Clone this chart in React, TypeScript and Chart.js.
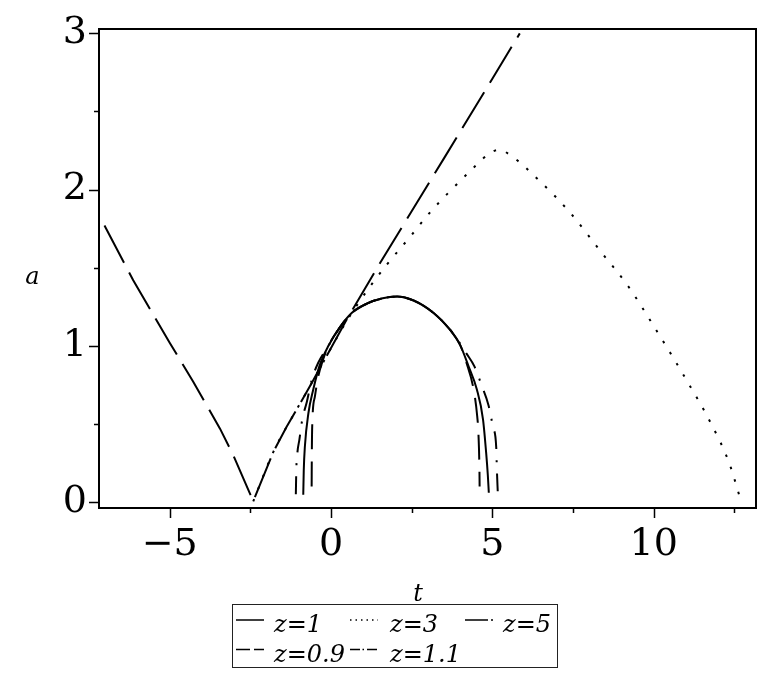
import React, { useEffect, useRef } from 'react';
import { Chart, registerables } from 'chart.js';

Chart.register(...registerables);

// ---- data ----
// z = 1 (solid)
const tZ1 = [-0.86, -0.845, -0.81, -0.7, -0.55, -0.36, -0.08, 0.28, 0.64, 1.11, 1.6, 2.05, 2.56, 3.18, 3.7, 4.0, 4.26, 4.52, 4.71, 4.81, 4.86, 4.89];
const aZ1 = [0.047, 0.2, 0.356, 0.57, 0.72, 0.87, 1.0, 1.12, 1.21, 1.27, 1.305, 1.315, 1.29, 1.21, 1.1, 1.006, 0.87, 0.72, 0.53, 0.31, 0.17, 0.06];

// z = 3 (dotted)
const tZ3 = [-2.41, -1.79, -1.38, -0.96, -0.55, 0.49, 1.21, 1.73, 2.5, 3.05, 3.64, 4.52, 4.9, 5.2, 5.56, 6.49, 7.42, 8.41, 9.18, 10.11, 10.99, 11.77, 12.34, 12.7];
const aZ3 = [0.005, 0.32, 0.48, 0.63, 0.78, 1.16, 1.38, 1.52, 1.71, 1.85, 1.98, 2.16, 2.23, 2.255, 2.22, 2.05, 1.85, 1.59, 1.39, 1.09, 0.79, 0.505, 0.25, 0.01];

// z = 5 (long dash)
const tZ5 = [-7.02, -6.13, -5.0, -4.27, -3.44, -3.03, -2.41, -1.79, -1.38, -0.96, -0.55, 0.49, 1.52, 2.2, 3.5, 5.0, 5.85];
const aZ5 = [1.77, 1.42, 1.02, 0.77, 0.47, 0.3, 0.005, 0.32, 0.48, 0.63, 0.78, 1.17, 1.53, 1.76, 2.2, 2.71, 3.0];

// z = 0.9 (dashed)
const tZ09 = [-0.6, -0.595, -0.58, -0.5, -0.4, -0.25, -0.08, 0.28, 0.64, 1.11, 1.6, 2.05, 2.56, 3.18, 3.7, 4.0, 4.2, 4.42, 4.53, 4.57, 4.6, 4.605];
const aZ09 = [0.1, 0.3, 0.505, 0.675, 0.8, 0.91, 1.0, 1.12, 1.21, 1.27, 1.305, 1.315, 1.29, 1.21, 1.1, 1.006, 0.89, 0.72, 0.55, 0.43, 0.2, 0.1];

// z = 1.1 (dash-dot)
const tZ11 = [-1.09, -1.075, -1.04, -0.98, -0.89, -0.75, -0.6, -0.4, -0.08, 0.28, 0.64, 1.11, 1.6, 2.05, 2.56, 3.18, 3.7, 3.95, 4.2, 4.44, 4.68, 4.88, 5.02, 5.12, 5.14, 5.17];
const aZ11 = [0.05, 0.21, 0.32, 0.4, 0.53, 0.64, 0.78, 0.89, 1.0, 1.12, 1.21, 1.27, 1.305, 1.315, 1.29, 1.21, 1.1, 1.03, 0.95, 0.87, 0.74, 0.62, 0.48, 0.35, 0.21, 0.05];

const seriesLabels = ['z=1', 'z=3', 'z=5', 'z=0.9', 'z=1.1'];

const xMajorTicks = [-5, 0, 5, 10];
const xMinorTicks = [-2.5, 2.5, 7.5, 12.5];
const yMajorTicks = [0, 1, 2, 3];
const yMinorTicks = [0.5, 1.5, 2.5];
const xTitle = 't';
const yTitle = 'a';

const pts = (t: number[], a: number[]) => t.map((v, i) => ({ x: v, y: a[i] }));
const fmt = (v: number) => (v < 0 ? '\u2212' + Math.abs(v) : String(v));

const TICK_FONT = '"DejaVu Serif", serif';
const LABEL_FONT = 'italic 24px "DejaVu Serif", serif';

const decor = {
  id: 'decor',
  afterDraw(chart: any) {
    const { ctx, chartArea: ca, scales } = chart;
    const x = scales.x;
    const y = scales.y;
    ctx.save();
    ctx.strokeStyle = '#000';
    ctx.lineWidth = 2;
    ctx.setLineDash([]);
    ctx.strokeRect(ca.left, ca.top, ca.right - ca.left, ca.bottom - ca.top);

    ctx.lineWidth = 1.5;
    ctx.beginPath();
    xMajorTicks.forEach((v) => {
      const p = Math.round(x.getPixelForValue(v)) + 0.5;
      ctx.moveTo(p, ca.bottom);
      ctx.lineTo(p, ca.bottom + 10);
    });
    xMinorTicks.forEach((v) => {
      const p = Math.round(x.getPixelForValue(v)) + 0.5;
      ctx.moveTo(p, ca.bottom);
      ctx.lineTo(p, ca.bottom + 5);
    });
    yMajorTicks.forEach((v) => {
      const p = Math.round(y.getPixelForValue(v)) + 0.5;
      ctx.moveTo(ca.left, p);
      ctx.lineTo(ca.left - 10, p);
    });
    yMinorTicks.forEach((v) => {
      const p = Math.round(y.getPixelForValue(v)) + 0.5;
      ctx.moveTo(ca.left, p);
      ctx.lineTo(ca.left - 5, p);
    });
    ctx.stroke();

    // axis titles
    ctx.fillStyle = '#000';
    ctx.font = LABEL_FONT;
    ctx.textAlign = 'center';
    ctx.textBaseline = 'alphabetic';
    ctx.fillText(xTitle, 418, 601);
    ctx.fillText(yTitle, 32.5, 284);

    // legend
    ctx.lineWidth = 1;
    ctx.strokeStyle = '#222';
    ctx.strokeRect(232.5, 604.5, 325, 63);

    const entries = [
      { label: seriesLabels[0], sx: 236, tx: 274, sy: 620, by: 631.5, dash: [] as number[] },
      { label: seriesLabels[1], sx: 350, tx: 390, sy: 620, by: 631.5, dash: [1.5, 4] },
      { label: seriesLabels[2], sx: 465, tx: 503, sy: 620, by: 631.5, dash: [23, 3, 2, 10] },
      { label: seriesLabels[3], sx: 236, tx: 274, sy: 649.5, by: 661.5, dash: [14, 4] },
      { label: seriesLabels[4], sx: 350, tx: 390, sy: 649.5, by: 661.5, dash: [10, 2.5, 1.5, 3] },
    ];
    ctx.textAlign = 'left';
    entries.forEach((e) => {
      ctx.strokeStyle = '#000';
      ctx.lineWidth = 1.5;
      ctx.setLineDash(e.dash);
      ctx.beginPath();
      ctx.moveTo(e.sx, e.sy);
      ctx.lineTo(e.sx + 28, e.sy);
      ctx.stroke();
      ctx.setLineDash([]);
      ctx.fillText(e.label, e.tx, e.by);
    });
    ctx.restore();
  },
};

export default function App() {
  const ref = useRef<HTMLCanvasElement | null>(null);
  useEffect(() => {
    if (!ref.current) return;
    const base = {
      showLine: true,
      pointRadius: 0,
      borderColor: '#000',
      backgroundColor: '#000',
      borderWidth: 2,
      fill: false,
    };
    const chart = new Chart(ref.current, {
      type: 'scatter',
      data: {
        datasets: [
          { ...base, label: seriesLabels[2], data: pts(tZ5, aZ5), borderDash: [42, 11], tension: 0 },
          { ...base, label: seriesLabels[1], data: pts(tZ3, aZ3), borderDash: [2.5, 10.5], cubicInterpolationMode: 'monotone' },
          { ...base, label: seriesLabels[4], data: pts(tZ11, aZ11), borderDash: [18, 11, 2, 11], cubicInterpolationMode: 'monotone' },
          { ...base, label: seriesLabels[3], data: pts(tZ09, aZ09), borderDash: [25, 12], cubicInterpolationMode: 'monotone' },
          { ...base, label: seriesLabels[0], data: pts(tZ1, aZ1), cubicInterpolationMode: 'monotone' },
        ] as any,
      },
      options: {
        animation: false,
        responsive: false,
        devicePixelRatio: 1,
        layout: { padding: { top: 29, right: 8, left: 0, bottom: 0 } },
        plugins: { legend: { display: false }, tooltip: { enabled: false } },
        scales: {
          x: {
            type: 'linear',
            min: -7.19,
            max: 13.17,
            grid: { display: false },
            border: { display: false },
            afterBuildTicks: (s: any) => {
              s.ticks = xMajorTicks.map((v) => ({ value: v }));
            },
            afterFit: (s: any) => {
              s.height = 182;
            },
            ticks: {
              color: '#000',
              font: { family: TICK_FONT, size: 38 },
              padding: 6,
              maxRotation: 0,
              autoSkip: false,
              callback: (v: any) => fmt(Number(v)),
            },
          },
          y: {
            type: 'linear',
            min: -0.038,
            max: 3.028,
            grid: { display: false },
            border: { display: false },
            afterBuildTicks: (s: any) => {
              s.ticks = yMajorTicks.map((v) => ({ value: v }));
            },
            afterFit: (s: any) => {
              s.width = 99;
            },
            ticks: {
              color: '#000',
              font: { family: TICK_FONT, size: 38 },
              padding: 4,
              autoSkip: false,
              callback: (v: any) => fmt(Number(v)),
            },
          },
        },
      } as any,
      plugins: [decor],
    });
    return () => chart.destroy();
  }, []);
  return (
    <div style={{ position: 'absolute', left: 0, top: 0, width: 764, height: 690, background: '#fff' }}>
      <canvas ref={ref} width={764} height={690} style={{ display: 'block' }} />
    </div>
  );
}
